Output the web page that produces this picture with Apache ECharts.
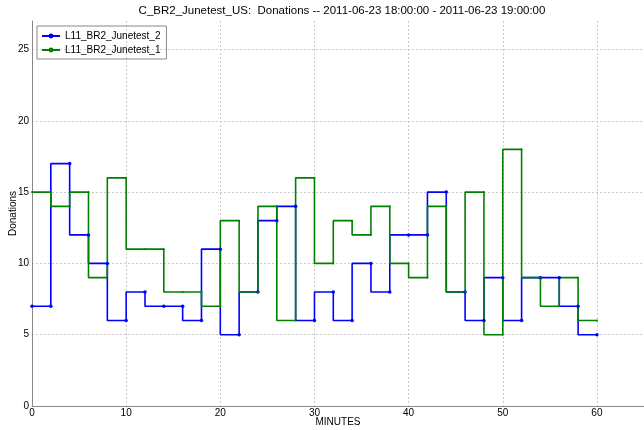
<!DOCTYPE html>
<html><head><meta charset="utf-8">
<script src="https://cdn.jsdelivr.net/npm/echarts@6/dist/echarts.min.js"></script>
<style>html,body{margin:0;padding:0;background:#fff}#c{width:644px;height:430px}</style>
</head><body><div id="c"></div>
<script>
const minutes = [0,2,4,6,8,10,12,14,16,18,20,22,24,26,28,30,32,34,36,38,40,42,44,46,48,50,52,54,56,58,60];
const junetest2 = [7,7,17,12,10,6,8,7,7,6,11,5,8,13,14,6,8,6,10,8,12,12,15,8,6,9,6,9,9,7,5];
const junetest1 = [15,15,14,15,9,16,11,11,8,8,7,13,8,14,6,16,10,13,12,14,10,9,14,8,15,5,18,9,7,9,6];
const xTicks = [0,10,20,30,40,50,60];
const yTicks = [0,5,10,15,20,25];
const seriesNames = ['L11_BR2_Junetest_2','L11_BR2_Junetest_1'];

const font = "'Liberation Sans',Roboto,sans-serif";
const chart = echarts.init(document.getElementById('c'), null, {renderer:'canvas'});
chart.setOption({
  animation:false,
  textStyle:{fontFamily:font},
  title:{text:'C_BR2_Junetest_US:  Donations -- 2011-06-23 18:00:00 - 2011-06-23 19:00:00',
    left:342, textAlign:'center', top:5, padding:0, textStyle:{fontFamily:font,fontSize:11.5,fontWeight:'normal',color:'#000'}},
  legend:{orient:'vertical', left:37, top:26, padding:[5,6,4,4], itemGap:4,
    borderColor:'#888', borderWidth:1, itemWidth:18, itemHeight:6,
    textStyle:{fontFamily:font,fontSize:10,color:'#000'},
    data:seriesNames},
  grid:{left:32, right:0, top:21, bottom:24, outerBoundsMode:'none', containLabel:false},
  xAxis:{type:'value', min:0, max:65, interval:10, name:'MINUTES', nameLocation:'middle', nameGap:11,
    nameMoveOverlap:false,
    nameTextStyle:{fontFamily:font,fontSize:10,color:'#000'},
    axisLine:{show:true,lineStyle:{color:'#888',width:1}}, axisTick:{show:false},
    axisLabel:{fontFamily:font,fontSize:10,color:'#000',margin:2,
      formatter:v=>xTicks.includes(v)?String(v):''},
    splitLine:{show:true,showMaxLine:false,lineStyle:{color:'#ccc',type:[2,2],width:1}}},
  yAxis:{type:'value', min:0, max:27, interval:5, name:'Donations', nameLocation:'middle', nameGap:14,
    nameMoveOverlap:false,
    nameTextStyle:{fontFamily:font,fontSize:10,color:'#000'},
    axisLine:{show:true,lineStyle:{color:'#888',width:1}}, axisTick:{show:false},
    axisLabel:{fontFamily:font,fontSize:10,color:'#000',margin:3,
      formatter:v=>yTicks.includes(v)?String(v):''},
    splitLine:{show:true,showMaxLine:false,lineStyle:{color:'#ccc',type:[2,2],width:1}}},
  series:[
    {name:seriesNames[0], type:'line', step:'start', data:minutes.map((m,i)=>[m,junetest2[i]]),
      symbol:'circle', symbolSize:3.5, showSymbol:true, itemStyle:{color:'#0000ff'},
      lineStyle:{color:'#0000ff',width:1.6}},
    {name:seriesNames[1], type:'line', step:'start', data:minutes.map((m,i)=>[m,junetest1[i]]),
      symbol:'circle', symbolSize:2, showSymbol:true, itemStyle:{color:'#008000'},
      lineStyle:{color:'#008000',width:1.6}}
  ]
});
</script></body></html>
